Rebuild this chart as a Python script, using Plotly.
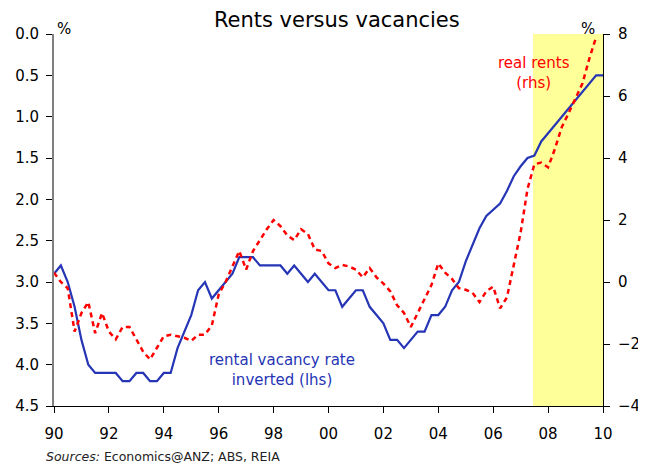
import plotly.graph_objects as go

# Quarterly time axis (decimal years)
vac_years = [1990 + 0.25 * i for i in range(81)]  # 1990.00 .. 2010.00
vacancy_rate = [
    2.9, 2.8, 3.0, 3.3, 3.7, 4.0, 4.1, 4.1,
    4.1, 4.1, 4.2, 4.2, 4.1, 4.1, 4.2, 4.2,
    4.1, 4.1, 3.8, 3.6, 3.4, 3.1, 3.0, 3.2,
    3.1, 3.0, 2.9, 2.7, 2.7, 2.7, 2.8, 2.8,
    2.8, 2.8, 2.9, 2.8, 2.9, 3.0, 2.9, 3.0,
    3.1, 3.1, 3.3, 3.2, 3.1, 3.1, 3.3, 3.4,
    3.5, 3.7, 3.7, 3.8, 3.7, 3.6, 3.6, 3.4,
    3.4, 3.3, 3.1, 3.0, 2.75, 2.55, 2.35, 2.2,
    2.12, 2.05, 1.9, 1.72, 1.6, 1.5, 1.47, 1.3,
    1.2, 1.1, 1.0, 0.9, 0.8, 0.7, 0.6, 0.5,
    0.5,
]

rent_years = [1990 + 0.25 * i for i in range(80)]  # 1990.00 .. 2009.75
real_rents = [
    0.3, 0.0, -0.2, -1.6, -1.0, -0.65, -1.65, -1.0,
    -1.6, -1.85, -1.45, -1.45, -1.85, -2.25, -2.5, -2.1,
    -1.75, -1.7, -1.75, -1.8, -1.9, -1.7, -1.7, -1.4,
    -0.4, 0.0, 0.5, 1.0, 0.4, 1.0, 1.35, 1.7,
    2.0, 1.8, 1.5, 1.35, 1.7, 1.55, 1.05, 1.0,
    0.6, 0.45, 0.55, 0.5, 0.4, 0.15, 0.45, 0.15,
    -0.05, -0.3, -0.75, -1.0, -1.45, -1.0, -0.6, -0.1,
    0.6, 0.3, 0.1, -0.2, -0.25, -0.35, -0.65, -0.3,
    -0.15, -0.85, -0.5, 0.5, 1.6, 3.0, 3.8, 3.85,
    3.7, 4.3, 5.0, 5.45, 5.9, 6.4, 7.2, 7.9,
]

x_tickvals = list(range(1990, 2011, 2))
x_ticktext = ["90", "92", "94", "96", "98", "00", "02", "04", "06", "08", "10"]
shade_start, shade_end = 2007.45, 2010

FONT = "DejaVu Sans"
BLUE = "#2535B5"
RED = "#FF0000"

fig = go.Figure()

fig.add_shape(type="rect", xref="x", yref="paper", x0=shade_start, x1=shade_end,
              y0=0, y1=1, fillcolor="#FFFF99", line=dict(width=0), layer="below")

fig.add_trace(go.Scatter(x=vac_years, y=vacancy_rate, mode="lines",
                         line=dict(color=BLUE, width=2.2), yaxis="y",
                         name="rental vacancy rate inverted (lhs)"))
fig.add_trace(go.Scatter(x=rent_years, y=real_rents, mode="lines",
                         line=dict(color=RED, width=2.5, dash="5px,4px"), yaxis="y2",
                         name="real rents (rhs)"))

fig.update_layout(
    width=646, height=464,
    margin=dict(l=46, r=51, t=26, b=66),
    paper_bgcolor="white", plot_bgcolor="rgba(0,0,0,0)",
    showlegend=False,
    font=dict(family=FONT, size=15, color="black"),
    title=dict(text="Rents versus vacancies", x=0.509, xanchor="center",
               y=0.974, yanchor="middle", font=dict(family=FONT, size=21, color="black")),
    xaxis=dict(range=[1990, 2010], tickvals=x_tickvals, ticktext=x_ticktext,
               showgrid=False, zeroline=False, showline=True, linecolor="black",
               linewidth=1, ticks="outside", ticklen=6, tickcolor="black",
               ticklabelstandoff=8, tickfont=dict(size=15), automargin=False),
    yaxis=dict(range=[4.5, 0], dtick=0.5, tickformat=".1f", showgrid=False,
               zeroline=False, showline=True, linecolor="#808080", linewidth=2,
               ticks="outside", ticklen=6, tickcolor="black", ticklabelstandoff=4,
               tickfont=dict(size=15), automargin=False),
    yaxis2=dict(range=[-4, 8], dtick=2, overlaying="y", side="right", showgrid=False,
                zeroline=False, showline=True, linecolor="black", linewidth=1,
                ticks="outside", ticklen=6, tickcolor="black", ticklabelstandoff=5,
                tickfont=dict(size=15), automargin=False),
)

fig.add_annotation(text="%", xref="paper", yref="paper", x=0.0, y=1.0,
                   xanchor="left", yanchor="bottom", showarrow=False,
                   font=dict(size=15), xshift=1, yshift=-6)
fig.add_annotation(text="%", xref="paper", yref="paper", x=1.0, y=1.0,
                   xanchor="right", yanchor="bottom", showarrow=False,
                   font=dict(size=15), xshift=-6, yshift=-6)
fig.add_annotation(text="real rents<br>(rhs)", xref="x", yref="y2", x=2007.5, y=6.75,
                   showarrow=False, font=dict(size=15, color=RED))
fig.add_annotation(text="rental vacancy rate<br>inverted (lhs)", xref="x", yref="y",
                   x=1998.3, y=4.06, showarrow=False, font=dict(size=15, color=BLUE))
fig.add_annotation(text="<i>Sources:</i> Economics@ANZ; ABS, REIA", xref="paper", yref="paper",
                   x=-0.018, y=-0.137, xanchor="left", yanchor="middle", showarrow=False,
                   font=dict(size=12.5, color="#222222"))

fig.write_html("out.html")
